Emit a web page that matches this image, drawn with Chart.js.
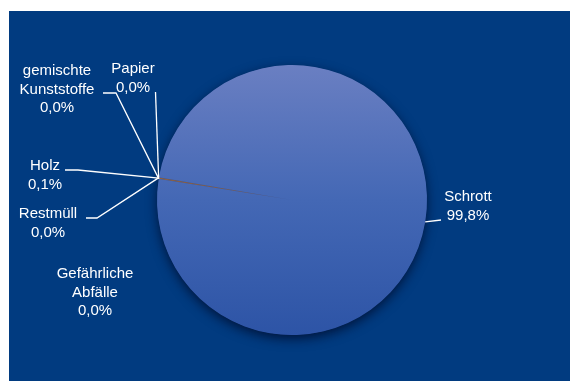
<!DOCTYPE html>
<html>
<head>
<meta charset="utf-8">
<script src="https://cdn.jsdelivr.net/npm/chart.js@4.4.1/dist/chart.umd.min.js"></script>
<style>
body{margin:0;background:#fff}
.box{position:relative;width:570px;height:381px}
</style>
</head>
<body>
<div class="box"><canvas id="pie"></canvas></div>
<script>
// data
const labels = ['Papier', 'gemischte Kunststoffe', 'Holz', 'Restmüll', 'Gefährliche Abfälle', 'Schrott'];
const labelLines = [['Papier'], ['gemischte', 'Kunststoffe'], ['Holz'], ['Restmüll'], ['Gefährliche', 'Abfälle'], ['Schrott']];
const values = [0.02, 0.02, 0.1, 0.02, 0.02, 99.8];

const smallColors = ['#8a5a30', '#7a5a40', '#a8652a', '#8a5a38', '#705840'];

// where the label text sits and the bends of the leader lines
const labelPos = [[133, 69], [57, 71], [45, 166], [48, 214], [95, 274], [468, 197]];
const leaderBends = [[[155.5, 92]], [[116, 93], [103, 93]], [[78, 170], [65, 170]], [[97, 218], [86, 218]], null, [[441, 220]]];

const total = values.reduce((a, b) => a + b, 0);
const pct = v => (v / total * 100).toFixed(1).replace('.', ',') + '%';

const bgPlugin = {
  id: 'bg',
  beforeDraw(chart) {
    const c = chart.ctx;
    c.save();
    c.fillStyle = '#ffffff';
    c.fillRect(0, 0, chart.width, chart.height);
    c.fillStyle = '#013b80';
    c.fillRect(9, 11, 561, 370);
    c.restore();
  },
  // soft shadow under the whole pie, drawn once before the slices
  beforeDatasetsDraw(chart) {
    const arc = chart.getDatasetMeta(0).data[0];
    if (!arc) return;
    const p = arc.getProps(['x', 'y', 'outerRadius'], true);
    const c = chart.ctx;
    c.save();
    c.shadowColor = 'rgba(0,10,40,0.8)';
    c.shadowBlur = 12;
    c.shadowOffsetY = 4;
    c.fillStyle = '#3558a8';
    c.beginPath();
    c.arc(p.x, p.y, p.outerRadius - 0.5, 0, Math.PI * 2);
    c.fill();
    c.restore();
  }
};

const labelPlugin = {
  id: 'sliceLabels',
  afterDraw(chart) {
    const c = chart.ctx;
    const arcs = chart.getDatasetMeta(0).data;
    c.save();
    c.strokeStyle = '#ffffff';
    c.lineWidth = 1.3;
    arcs.forEach((arc, i) => {
      const p = arc.getProps(['x', 'y', 'startAngle', 'endAngle', 'outerRadius'], true);
      const mid = (p.startAngle + p.endAngle) / 2;
      const sx = p.x + Math.cos(mid) * p.outerRadius;
      const sy = p.y + Math.sin(mid) * p.outerRadius;
      if (leaderBends[i]) {
        c.beginPath();
        c.moveTo(sx, sy);
        leaderBends[i].forEach(pt => c.lineTo(pt[0], pt[1]));
        c.stroke();
      }
    });
    c.fillStyle = '#ffffff';
    c.font = '15px "Liberation Sans", Arial, sans-serif';
    c.textAlign = 'center';
    c.textBaseline = 'middle';
    labelLines.forEach((lines, i) => {
      const all = lines.concat([pct(values[i])]);
      all.forEach((t, k) => {
        c.fillText(t, labelPos[i][0], labelPos[i][1] + k * 18.5);
      });
    });
    c.restore();
  }
};

new Chart(document.getElementById('pie'), {
  type: 'pie',
  data: {
    labels: labels,
    datasets: [{
      data: values,
      borderWidth: 0,
      backgroundColor(ctx) {
        if (ctx.dataIndex < smallColors.length) return smallColors[ctx.dataIndex];
        const area = ctx.chart.chartArea;
        if (!area) return '#4468b5';
        const g = ctx.chart.ctx.createLinearGradient(0, area.top, 0, area.bottom);
        g.addColorStop(0, '#6a7fc2');
        g.addColorStop(0.5, '#4468b5');
        g.addColorStop(1, '#2d54a6');
        return g;
      }
    }]
  },
  options: {
    responsive: true,
    maintainAspectRatio: false,
    animation: false,
    rotation: 279,
    layout: { padding: { top: 65, bottom: 46, left: 157, right: 143 } },
    plugins: {
      legend: { display: false },
      tooltip: { enabled: false }
    }
  },
  plugins: [bgPlugin, labelPlugin]
});
</script>
</body>
</html>
